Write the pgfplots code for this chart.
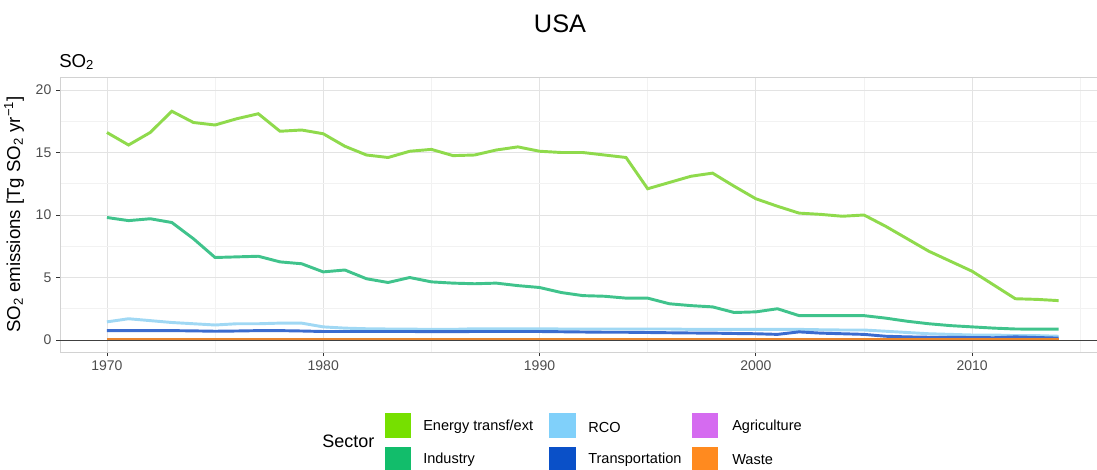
\documentclass[border=0pt]{standalone}
\usepackage{pgfplots}
\pgfplotsset{compat=1.18}
\usepackage{fontspec}
\setmainfont{Liberation Sans}
\definecolor{enk}{HTML}{76E000}
\definecolor{enl}{HTML}{8FDA4C}
\definecolor{ink}{HTML}{12BD6B}
\definecolor{inl}{HTML}{40C38C}
\definecolor{rck}{HTML}{80D0FA}
\definecolor{rcl}{HTML}{A0D8F4}
\definecolor{trk}{HTML}{0A50C8}
\definecolor{trl}{HTML}{3B6CCF}
\definecolor{agk}{HTML}{D56BF0}
\definecolor{wak}{HTML}{FF8A1F}
\definecolor{wal}{HTML}{E8852E}
\definecolor{gthirty}{HTML}{4D4D4D}

\pgfplotstableread{
year energy industry rco trans agri waste
1970 16.6 9.8 1.45 0.75 0.01 0.06
1971 15.6 9.55 1.7 0.75 0.01 0.06
1972 16.6 9.7 1.55 0.75 0.01 0.06
1973 18.3 9.4 1.4 0.75 0.01 0.06
1974 17.4 8.1 1.3 0.73 0.01 0.06
1975 17.2 6.6 1.2 0.70 0.01 0.06
1976 17.7 6.65 1.3 0.72 0.01 0.06
1977 18.1 6.7 1.3 0.75 0.01 0.06
1978 16.7 6.25 1.35 0.75 0.01 0.06
1979 16.8 6.1 1.35 0.72 0.01 0.06
1980 16.5 5.45 1.05 0.68 0.01 0.06
1981 15.5 5.6 0.95 0.68 0.01 0.06
1982 14.8 4.9 0.9 0.68 0.01 0.06
1983 14.6 4.6 0.88 0.68 0.01 0.06
1984 15.1 5.0 0.87 0.68 0.01 0.06
1985 15.25 4.65 0.85 0.67 0.01 0.06
1986 14.75 4.55 0.85 0.67 0.01 0.06
1987 14.8 4.5 0.9 0.68 0.01 0.06
1988 15.2 4.55 0.9 0.68 0.01 0.06
1989 15.45 4.35 0.9 0.68 0.01 0.06
1990 15.1 4.2 0.9 0.68 0.01 0.06
1991 15.0 3.8 0.88 0.66 0.01 0.06
1992 15.0 3.55 0.88 0.64 0.01 0.06
1993 14.8 3.5 0.88 0.62 0.01 0.06
1994 14.6 3.35 0.88 0.62 0.01 0.06
1995 12.1 3.35 0.88 0.60 0.01 0.06
1996 12.6 2.9 0.88 0.58 0.01 0.06
1997 13.1 2.75 0.85 0.56 0.01 0.06
1998 13.35 2.65 0.85 0.55 0.01 0.06
1999 12.3 2.2 0.85 0.52 0.01 0.06
2000 11.3 2.25 0.85 0.50 0.01 0.06
2001 10.7 2.5 0.85 0.45 0.01 0.06
2002 10.15 1.95 0.85 0.65 0.01 0.06
2003 10.05 1.95 0.82 0.55 0.01 0.06
2004 9.9 1.95 0.8 0.50 0.01 0.06
2005 10.0 1.95 0.8 0.45 0.01 0.06
2006 9.1 1.75 0.7 0.30 0.01 0.06
2007 8.1 1.5 0.6 0.25 0.01 0.06
2008 7.1 1.3 0.5 0.22 0.01 0.06
2009 6.3 1.15 0.45 0.21 0.01 0.06
2010 5.5 1.05 0.4 0.20 0.01 0.06
2011 4.4 0.95 0.4 0.18 0.01 0.06
2012 3.3 0.88 0.35 0.25 0.01 0.06
2013 3.25 0.87 0.35 0.20 0.01 0.06
2014 3.15 0.87 0.3 0.15 0.01 0.06
}\sodata

\begin{document}
\begin{tikzpicture}
\useasboundingbox (0,0) rectangle (822.75pt,351.75pt);
\begin{axis}[
  at={(45pt,87.75pt)}, anchor=south west,
  scale only axis, width=784.5pt, height=206.25pt,
  xmin=1967.83, xmax=2016.19, ymin=-0.96, ymax=21.04,
  xtick={1970,1980,1990,2000,2010},
  minor xtick={1975,1985,1995,2005,2015},
  ytick={0,5,10,15,20},
  minor ytick={2.5,7.5,12.5,17.5},
  xticklabel style={/pgf/number format/1000 sep={}},
  /pgf/number format/assume math mode=true,
  ticklabel style={font=\fontsize{10.5pt}{12pt}\selectfont, text=gthirty},
  grid=both,
  major grid style={gray!22, line width=0.6pt},
  minor grid style={gray!10, line width=0.4pt},
  axis line style={gray!35, line width=0.6pt},
  tick align=outside,
  major tick length=3pt,
  minor tick length=0pt,
  tick style={black!80, line width=0.6pt},
  xtick pos=bottom, ytick pos=left,
  clip=true,
]
\addplot[enl, line width=2.2pt] table[x=year, y=energy] {\sodata};
\addplot[inl, line width=2.2pt] table[x=year, y=industry] {\sodata};
\addplot[rcl, line width=2.2pt] table[x=year, y=rco] {\sodata};
\addplot[trl, line width=2.2pt] table[x=year, y=trans] {\sodata};
\addplot[agk, line width=1pt] table[x=year, y=agri] {\sodata};
\addplot[wal, line width=1.8pt] table[x=year, y=waste] {\sodata};
\addplot[black!75, line width=0.6pt, forget plot] coordinates {(1967.83,0) (2016.19,0)};
\end{axis}
\begin{scope}[x=0.75pt, y=0.75pt]
  \node[anchor=center, font=\fontsize{19pt}{22pt}\selectfont] at (560,445) {USA};
  \node[anchor=base west, inner sep=0pt, font=\fontsize{14pt}{16pt}\selectfont] at (59,402) {SO\textsubscript{2}};
  \node[rotate=90, anchor=center, inner sep=0pt, font=\fontsize{14pt}{16pt}\selectfont] at (14,254.5) {SO\textsubscript{2} emissions [Tg SO\textsubscript{2} yr\textsuperscript{−1}]};
  % legend
  \node[anchor=west, inner sep=0pt, font=\fontsize{13.5pt}{16pt}\selectfont] at (322,28) {Sector};
  \fill[enk] (385,31) rectangle (411,56);
  \fill[ink] (385,-3) rectangle (411,22);
  \fill[rck] (549,31) rectangle (576,56);
  \fill[trk] (549,-3) rectangle (576,22);
  \fill[agk] (692,31) rectangle (718,56);
  \fill[wak] (692,-3) rectangle (718,22);
  \begin{scope}[every node/.style={anchor=west, inner sep=0pt, font=\fontsize{10.9pt}{13pt}\selectfont}]
  \node at (423,42) {Energy transf/ext};
  \node at (423,9) {Industry};
  \node at (588,42) {RCO};
  \node at (588,9) {Transportation};
  \node at (732,42) {Agriculture};
  \node at (732,9) {Waste};
  \end{scope}
\end{scope}
\end{tikzpicture}
\end{document}
